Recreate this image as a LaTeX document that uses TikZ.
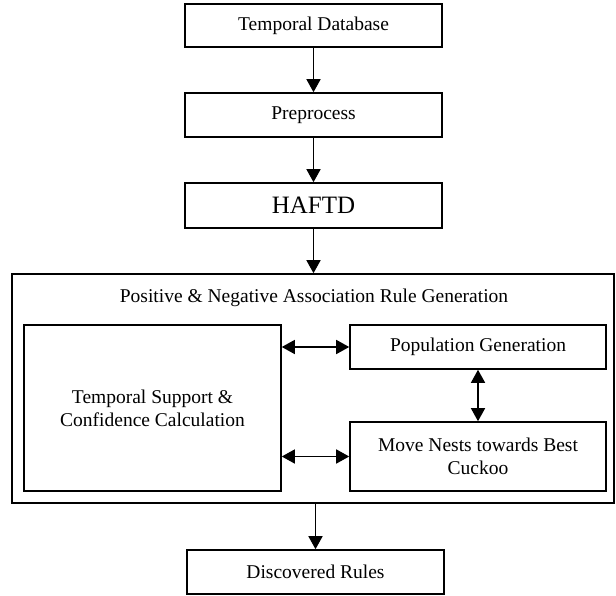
\documentclass[tikz,border=0pt]{standalone}
\usepackage{fontspec}
\setmainfont{Liberation Serif}
\usetikzlibrary{arrows.meta}
\begin{document}
\begin{tikzpicture}[x=1pt,y=-1pt,
  box/.style={draw,line width=1.6pt,rectangle,inner sep=0pt,align=center,
    font=\fontsize{19.5}{23}\selectfont},
  conn/.style={line width=1.5pt,-{Triangle[width=14pt,length=13pt]}},
  dconn/.style={line width=1.5pt,{Triangle[width=14pt,length=13pt]}-{Triangle[width=14pt,length=13pt]}}]
\useasboundingbox (0,0) rectangle (616,596);
\node[box,minimum width=257pt,minimum height=43pt] (td) at (313.5,25.5) {Temporal Database};
\node[box,minimum width=257pt,minimum height=44pt] (pre) at (313.5,115) {Preprocess};
\node[box,minimum width=257pt,minimum height=45pt,font=\fontsize{25}{28}\selectfont] (haftd) at (313.5,205.5) {HAFTD};
\node[box,minimum width=602pt,minimum height=229pt] (big) at (313,388.5) {};
\node[font=\fontsize{19.5}{23}\selectfont] (title) at (314,298) {Positive \& Negative Association Rule Generation};
\node[box,minimum width=257pt,minimum height=166pt] (tsc) at (152.5,408) {Temporal Support \&\\Confidence Calculation};
\node[box,minimum width=256pt,minimum height=44pt] (pop) at (478,347) {Population Generation};
\node[box,minimum width=256pt,minimum height=69pt] (move) at (478,456.5) {Move Nests towards Best\\Cuckoo};
\node[box,minimum width=257pt,minimum height=44pt] (disc) at (315.5,572) {Discovered Rules};
\draw[conn] (td) -- (pre);
\draw[conn] (pre) -- (haftd);
\draw[conn] (haftd) -- (big.north -| haftd);
\draw[conn] (big.south -| disc) -- (disc);
\draw[dconn] (tsc.east |- pop) -- (pop.west);
\draw[dconn] (tsc.east |- move) -- (move.west);
\draw[dconn] (pop) -- (move);
\end{tikzpicture}
\end{document}
